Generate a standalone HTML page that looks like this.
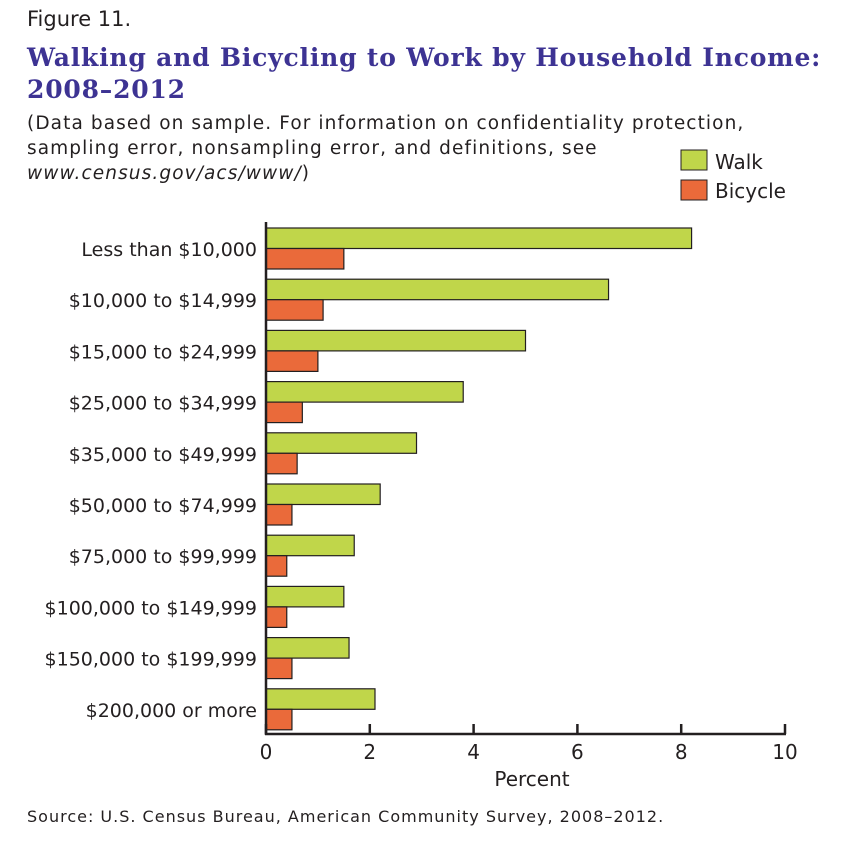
<!DOCTYPE html>
<html><head><meta charset="utf-8"><style>
body{margin:0;background:#fff;width:850px;height:852px;overflow:hidden;font-family:"DejaVu Sans","Liberation Sans",sans-serif;color:#231f20}
.t{position:absolute;white-space:nowrap}
</style></head><body>
<div class="t" style="left:27px;top:7px;font-size:21px">Figure 11.</div>
<div class="t" style="left:27px;top:42px;font-family:'DejaVu Serif','Liberation Serif',serif;font-weight:bold;font-size:25px;letter-spacing:0.8px;color:#3d3393;line-height:32px">Walking and Bicycling to Work by Household Income:<br>2008–2012</div>
<div class="t" style="left:27px;top:111px;font-size:18.5px;letter-spacing:1.1px;line-height:25px">(Data based on sample. For information on confidentiality protection,<br>sampling error, nonsampling error, and definitions, see<br><i>www.census.gov/acs/www/</i>)</div>
<svg width="850" height="852" style="position:absolute;left:0;top:0">
<g id="legend">
<rect x="681" y="150" width="26" height="20" fill="#c0d64a" stroke="#231f20" stroke-width="1"/>
<text x="715" y="169" font-size="20" fill="#231f20">Walk</text>
<rect x="681" y="180" width="26" height="20" fill="#ea6a3a" stroke="#231f20" stroke-width="1"/>
<text x="715" y="198" font-size="20" fill="#231f20">Bicycle</text>
</g>
<g id="plot"></g>
<text x="532" y="786" font-size="20" text-anchor="middle" fill="#231f20">Percent</text>
<text x="27" y="822" font-size="16" letter-spacing="1" fill="#231f20">Source: U.S. Census Bureau, American Community Survey, 2008–2012.</text>
</svg>
<script>
const categories=["Less than $10,000","$10,000 to $14,999","$15,000 to $24,999","$25,000 to $34,999","$35,000 to $49,999","$50,000 to $74,999","$75,000 to $99,999","$100,000 to $149,999","$150,000 to $199,999","$200,000 or more"];
const walk=[8.2,6.6,5.0,3.8,2.9,2.2,1.7,1.5,1.6,2.1];
const bicycle=[1.5,1.1,1.0,0.7,0.6,0.5,0.4,0.4,0.5,0.5];
const ticks=[0,2,4,6,8,10];
const ns="http://www.w3.org/2000/svg";
const g=document.getElementById('plot');
const x0=266,x1=785,xmax=10;
const X=v=>x0+(v/xmax)*(x1-x0);
const rowTop=i=>228+i*51.2;
function mk(t,a){const e=document.createElementNS(ns,t);for(const k in a)e.setAttribute(k,a[k]);g.appendChild(e);return e;}
categories.forEach((c,i)=>{
 const y=rowTop(i);
 const w=mk('rect',{x:x0,y:y,width:X(walk[i])-x0,height:20.5,fill:'#c0d64a',stroke:'#231f20','stroke-width':1.2});
 
 
 const b=mk('rect',{x:x0,y:y+20.5,width:X(bicycle[i])-x0,height:20.5,fill:'#ea6a3a',stroke:'#231f20','stroke-width':1.2});
 
 
 const t=mk('text',{x:257,y:y+28,'font-size':19,'text-anchor':'end',fill:'#231f20'});
 t.textContent=c;
 
 
});
const ax=mk('path',{d:`M${x0} 222 V735 M${x0-1} 734 H${x1+1}`,stroke:'#231f20','stroke-width':2.5,fill:'none'});


ticks.forEach(v=>{
 const tk=mk('line',{x1:X(v),x2:X(v),y1:724,y2:734,stroke:'#231f20','stroke-width':2.5});
 
 
 const tl=mk('text',{x:X(v),y:759,'font-size':20,'text-anchor':'middle',fill:'#231f20'});
 tl.textContent=v;
 
 
});
</script>
</body></html>
